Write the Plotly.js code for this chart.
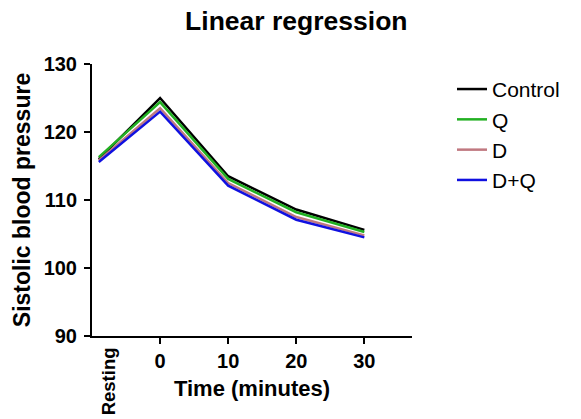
<!DOCTYPE html>
<html>
<head>
<meta charset="utf-8">
<script src="https://cdn.plot.ly/plotly-3.0.1.min.js"></script>
<style>html,body{margin:0;padding:0;background:#fff;}#chart{width:581px;height:419px;}</style>
</head>
<body>
<div id="chart"></div>
<script>
const timeCategories = ["Resting", "0", "10", "20", "30"];
const timeValues = [-9, 0, 10, 20, 30];
const seriesNames = ["Control", "Q", "D", "D+Q"];
const controlValues = [116.0, 125.0, 113.5, 108.6, 105.6];
const qValues = [116.3, 124.4, 113.1, 108.2, 105.3];
const dValues = [115.8, 123.5, 112.5, 107.5, 104.8];
const dqValues = [115.6, 123.0, 112.1, 107.1, 104.5];
const seriesColors = ["#000000", "#22b022", "#c07880", "#1010e0"];
const yTickVals = [90, 100, 110, 120, 130];
const xTickVals = [0, 10, 20, 30];

const allValues = [controlValues, qValues, dValues, dqValues];
const traces = seriesNames.map((name, i) => ({
  x: timeValues,
  y: allValues[i],
  name: name,
  type: "scatter",
  mode: "lines",
  line: {color: seriesColors[i], width: 2.5}
}));

const font = "Liberation Sans, Arial, sans-serif";
const layout = {
  width: 581, height: 419,
  margin: {l: 92, r: 169, t: 64, b: 83},
  paper_bgcolor: "#fff", plot_bgcolor: "#fff",
  showlegend: true,
  title: {text: "<b>Linear regression</b>", font: {family: font, size: 26.5, color: "#000"}, x: 0.51, xanchor: "center", y: 0.95, yanchor: "middle"},
  xaxis: {
    range: [-10, 37], tickvals: xTickVals, ticktext: xTickVals.map(String),
    showgrid: false, zeroline: false, showline: true, linecolor: "#000", linewidth: 2,
    ticks: "outside", ticklen: 6, tickwidth: 2, tickcolor: "#000",
    tickfont: {family: font, size: 20, color: "#000", weight: "bold"},
    title: {text: "<b>Time (minutes)</b>", font: {family: font, size: 22, color: "#000"}, standoff: 10}
  },
  yaxis: {
    range: [90, 130], tickvals: yTickVals,
    showgrid: false, zeroline: false, showline: true, linecolor: "#000", linewidth: 2,
    ticks: "outside", ticklen: 6, tickwidth: 2, tickcolor: "#000", ticklabelstandoff: 3,
    tickfont: {family: font, size: 20, color: "#000", weight: "bold"},
    title: {text: "<b>Sistolic blood pressure</b>", font: {family: font, size: 23, color: "#000"}, standoff: 7}
  },
  legend: {
    x: 1.125, y: 0.982, xanchor: "left", yanchor: "top",
    font: {family: font, size: 21, color: "#000"},
    itemwidth: 30, tracegroupgap: 0, bgcolor: "rgba(0,0,0,0)"
  },
  annotations: [{
    x: -7.6, y: 0, xref: "x", yref: "paper", yanchor: "top", xanchor: "center",
    yshift: -9, text: "<b>" + timeCategories[0] + "</b>", textangle: -90, showarrow: false,
    font: {family: font, size: 18.5, color: "#000"}
  }]
};
Plotly.newPlot("chart", traces, layout, {displayModeBar: false, staticPlot: true});
</script>
</body>
</html>
